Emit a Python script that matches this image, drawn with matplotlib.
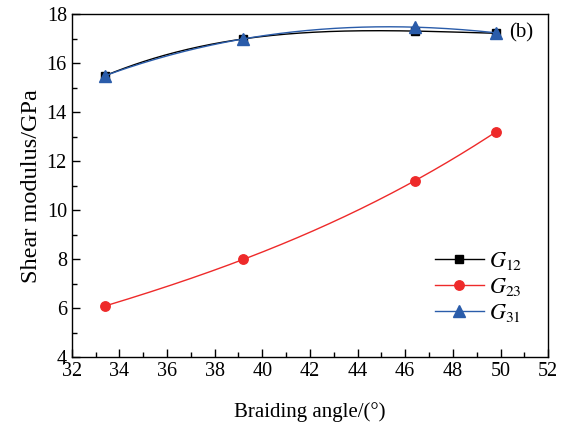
import numpy as np
import matplotlib
matplotlib.use('Agg')
import matplotlib.pyplot as plt
from matplotlib.ticker import MultipleLocator

plt.rcParams['font.family'] = 'Liberation Serif'
plt.rcParams['mathtext.fontset'] = 'stix'

# braiding angle (deg)
angle = [33.4, 39.2, 46.4, 49.8]
# shear moduli (GPa)
g12 = [15.5, 17.0, 17.32, 17.23]
g23 = [6.1, 8.0, 11.21, 13.2]
g31 = [15.5, 17.0, 17.48, 17.25]


def smooth(x, y):
    # smooth curve through the points, like the original spline line
    c = np.polyfit(x, y, len(x) - 1)
    xs = np.linspace(min(x), max(x), 200)
    return xs, np.polyval(c, xs)


fig = plt.figure(figsize=(5.74, 4.24), dpi=100)
ax = fig.add_axes([0.125, 0.157, 0.83, 0.809])

series = [
    (g12, 'black', 's', 5.8, r'$G_{12}$'),
    (g23, '#EE2A2A', 'o', 6.8, r'$G_{23}$'),
    (g31, '#2A5CAA', '^', 8, r'$G_{31}$'),
]
for y, col, mk, ms, lab in series:
    xs, ys = smooth(angle, y)
    ax.plot(xs, ys, color=col, lw=1.0)
    ax.plot(angle, y, linestyle='none', marker=mk, color=col, ms=ms)
    ax.plot([], [], color=col, lw=1.0, marker=mk, ms=ms, label=lab)

ax.set_xlim(32, 52)
ax.set_ylim(4, 18)
ax.xaxis.set_major_locator(MultipleLocator(2))
ax.xaxis.set_minor_locator(MultipleLocator(1))
ax.yaxis.set_major_locator(MultipleLocator(2))
ax.yaxis.set_minor_locator(MultipleLocator(1))
ax.tick_params(which='both', direction='in', top=False, right=False, labelsize=14.5)
ax.tick_params(which='major', length=6, width=1)
ax.tick_params(which='minor', length=3.5, width=1)
for s in ax.spines.values():
    s.set_linewidth(1.0)

ax.set_xlabel('Braiding angle/(°)', fontsize=15, labelpad=15)
ax.set_ylabel('Shear modulus/GPa', fontsize=17.5, labelpad=3)
ax.text(0.918, 0.945, '(b)', transform=ax.transAxes, fontsize=15, va='center', ha='left')

ax.legend(loc='center left', bbox_to_anchor=(0.72, 0.205), frameon=False,
          fontsize=16, handlelength=2.2, labelspacing=0.18, handletextpad=0.25)

plt.savefig('out.png', dpi=100)
